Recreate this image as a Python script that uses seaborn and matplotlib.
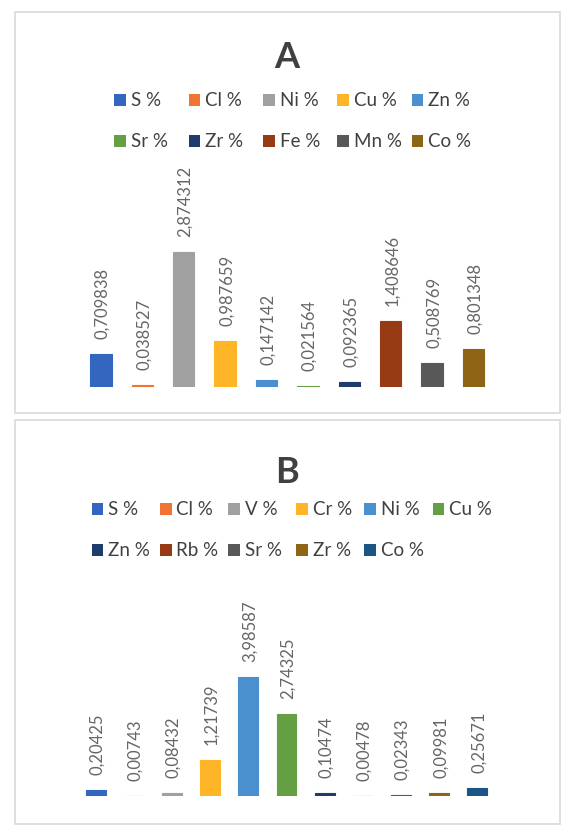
import matplotlib.pyplot as plt
import seaborn as sns
from matplotlib.patches import Rectangle


# ------------------------------------------------------------
# Element concentrations (%) for samples A and B
# ------------------------------------------------------------

elements_a = ["S %", "Cl %", "Ni %", "Cu %", "Zn %", "Sr %", "Zr %", "Fe %", "Mn %", "Co %"]
values_a = [0.709838, 0.038527, 2.874312, 0.987659, 0.147142,
            0.021564, 0.092365, 1.408646, 0.508769, 0.801348]
colors_a = ["#3367BF", "#F07331", "#A0A0A0", "#FEB528", "#4A90CF",
            "#64A043", "#1F3D6B", "#973B15", "#585858", "#8E6514"]

elements_b = ["S %", "Cl %", "V %", "Cr %", "Ni %", "Cu %",
              "Zn %", "Rb %", "Sr %", "Zr %", "Co %"]
values_b = [0.20425, 0.00743, 0.08432, 1.21739, 3.98587, 2.74325,
            0.10474, 0.00478, 0.02343, 0.09981, 0.25671]
colors_b = ["#3367BF", "#F07331", "#A0A0A0", "#FEB528", "#4A90CF", "#64A043",
            "#1F3D6B", "#973B15", "#585858", "#8E6514", "#1B5585"]


W, H = 574, 840
TEXT_DARK = "#404040"
TEXT_LABEL = "#666666"
FRAME = "#D9D9D9"

sns.set_theme(style="white")
plt.rcParams["font.family"] = ["Lato", "DejaVu Sans"]


def fx(x):
    return x / W


def fy(y):
    # y measured from the top of the picture, in pixels
    return 1 - y / H


def draw_panel(fig, title, elements, values, colors, layout):
    """Frame, title, legend and bar chart of one sample."""
    top, bottom = layout["frame_y"]
    fig.patches.append(Rectangle((fx(15), fy(bottom)), fx(560) - fx(15), fy(top) - fy(bottom),
                                 transform=fig.transFigure, fill=False,
                                 edgecolor=FRAME, linewidth=1.2))

    fig.text(fx(287), fy(layout["title_y"]), title, ha="center", va="baseline",
             fontsize=26, fontweight="bold", color=TEXT_DARK)

    # legend laid out in equal slots, row by row like the original
    ncol = layout["ncol"]
    size = 11.7
    for i, (name, color) in enumerate(zip(elements, colors)):
        row, col = divmod(i, ncol)
        x = layout["legend_x0"] + col * layout["legend_dx"]
        y = layout["legend_rows"][row]
        fig.patches.append(Rectangle((fx(x), fy(y + size / 2)), size / W, size / H,
                                     transform=fig.transFigure, facecolor=color,
                                     edgecolor="none"))
        fig.text(fx(x + 16.5), fy(y + 6), name, ha="left", va="baseline",
                 fontsize=13.5, color=TEXT_DARK)

    n = len(elements)
    step = layout["step"]
    left = layout["first_center"] - step / 2
    base = layout["baseline"]
    height_px = layout["ymax"] * layout["px_per_unit"]
    ax = fig.add_axes([fx(left), fy(base), n * step / W, height_px / H])

    sns.barplot(x=elements, y=values, hue=elements, palette=colors, width=0.52,
                saturation=1, legend=False, ax=ax)
    # thin outline in the bar colour so the tiny values still show as a line
    for bar in ax.patches:
        bar.set_edgecolor(bar.get_facecolor())
        bar.set_linewidth(0.8)
    ax.set_xlim(-0.5, n - 0.5)
    ax.set_ylim(0, layout["ymax"])
    ax.axis("off")

    for i, value in enumerate(values):
        ax.annotate(str(value).replace(".", ","), xy=(i, value),
                    xytext=(1.1, 10.8), textcoords="offset points",
                    rotation=90, ha="center", va="bottom",
                    fontsize=12, color=TEXT_LABEL)
    return ax


layout_a = {
    "frame_y": (12.3, 413),
    "title_y": 68.3,
    "ncol": 5,
    "legend_x0": 114.3,
    "legend_dx": 74.35,
    "legend_rows": [100, 141],
    "first_center": 100.9,
    "step": 41.4,
    "baseline": 386.7,
    "px_per_unit": 46.7,
    "ymax": 3.5,
}

layout_b = {
    "frame_y": (420, 824),
    "title_y": 482.7,
    "ncol": 6,
    "legend_x0": 91.7,
    "legend_dx": 68.2,
    "legend_rows": [509, 550],
    "first_center": 95.7,
    "step": 38.16,
    "baseline": 796,
    "px_per_unit": 29.9,
    "ymax": 4.5,
}


def main():
    fig = plt.figure(figsize=(W / 100, H / 100), dpi=100, facecolor="white")
    draw_panel(fig, "A", elements_a, values_a, colors_a, layout_a)
    draw_panel(fig, "B", elements_b, values_b, colors_b, layout_b)
    fig.savefig("out.png", dpi=100, facecolor="white")


if __name__ == "__main__":
    main()
